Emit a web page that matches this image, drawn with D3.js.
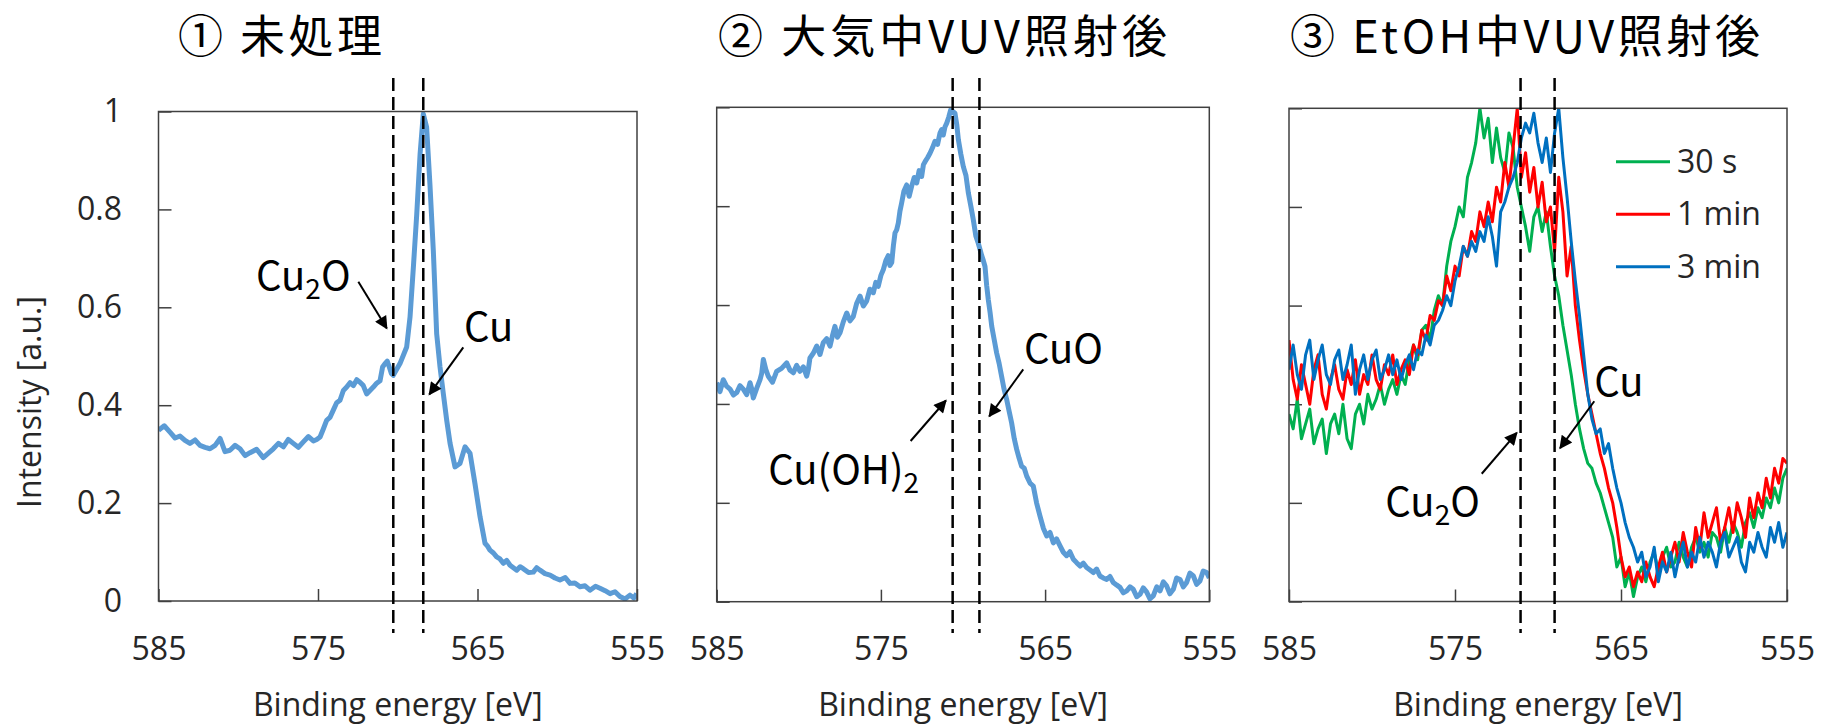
<!DOCTYPE html>
<meta charset="utf-8">
<style>
  body { margin: 0; background: #fff; }
  .num { font-family: "Open Sans", sans-serif; font-size: 32px; fill: #262626; }
  .jp { font-family: "Noto Sans CJK JP", sans-serif; fill: #000; }
</style>

<body>
  <svg id="chart" width="1821" height="724"></svg>
  <script src="https://d3js.org/d3.v7.min.js"></script>
  <script>
    var xTicks = [585, 575, 565, 555];
    var yTicks = [0, 0.2, 0.4, 0.6, 0.8, 1];
    var yTickLabels = ["0", "0.2", "0.4", "0.6", "0.8", "1"];
    var panelTitles = ["① 未処理", "② 大気中VUV照射後", "③ EtOH中VUV照射後"];
    var legendLabels = ["30 s", "1 min", "3 min"];

    // ① untreated
    var p1Energy = [585.0, 584.64, 584.28, 583.96, 583.65, 583.34, 583.03, 582.71, 582.4, 582.08,
      581.77, 581.45, 581.14, 580.83, 580.52, 580.2, 579.89, 579.57, 579.26, 578.85,
      578.43, 578.11, 577.8, 577.48, 577.17, 576.86, 576.55, 576.23, 575.92, 575.6,
      575.29, 575.08, 574.87, 574.66, 574.46, 574.25, 574.04, 573.83, 573.62, 573.41,
      573.2, 572.99, 572.78, 572.57, 572.37, 572.16, 571.95, 571.74, 571.53, 571.32,
      571.11, 570.95, 570.8, 570.66, 570.53, 570.4, 570.28, 569.86,
      569.44, 569.23, 569.02, 568.81, 568.6, 568.4, 568.19, 567.98, 567.77, 567.56,
      567.35, 567.14, 566.93, 566.72, 566.41, 566.1, 565.78, 565.47, 565.16, 564.84,
      564.53, 564.37, 564.22, 564.0, 563.8, 563.59, 563.38, 563.17, 562.96, 562.75,
      562.54, 562.33, 562.13, 561.8, 561.5, 561.29, 561.08, 560.77, 560.45, 560.14,
      559.83, 559.5, 559.2, 558.9, 558.57, 558.26, 557.95, 557.6, 557.32, 557.0,
      556.69, 556.38, 556.07, 555.75, 555.44, 555.2, 555.02];
    var p1Intensity = [0.349, 0.358, 0.345, 0.333, 0.337, 0.328, 0.322, 0.329, 0.318, 0.314,
      0.311, 0.318, 0.332, 0.305, 0.308, 0.318, 0.311, 0.297, 0.303, 0.31,
      0.293, 0.302, 0.311, 0.322, 0.315, 0.33, 0.322, 0.314, 0.325, 0.336,
      0.327, 0.33, 0.335, 0.352, 0.369, 0.375, 0.39, 0.405, 0.41, 0.43,
      0.437, 0.446, 0.44, 0.452, 0.447, 0.44, 0.423, 0.43, 0.437, 0.445,
      0.45, 0.478, 0.485, 0.49, 0.478, 0.465, 0.461, 0.485,
      0.519, 0.58, 0.682, 0.79, 0.913, 0.995, 0.968, 0.85, 0.716, 0.546,
      0.478, 0.423, 0.369, 0.322, 0.274, 0.281, 0.315, 0.302, 0.24, 0.172,
      0.118, 0.112, 0.104, 0.098, 0.09, 0.086, 0.077, 0.083, 0.073, 0.068,
      0.063, 0.07, 0.066, 0.058, 0.059, 0.068, 0.063, 0.056, 0.053, 0.047,
      0.043, 0.048, 0.036, 0.037, 0.029, 0.031, 0.022, 0.03, 0.026, 0.021,
      0.015, 0.019, 0.009, 0.004, 0.012, 0.006, 0.015];

    // ② VUV in air
    var p2Energy = [585.0, 584.8, 584.6, 584.4, 584.19, 583.98, 583.78, 583.58, 583.38, 583.17,
      582.97, 582.87, 582.77, 582.56, 582.36, 582.26, 582.16, 582.01, 581.86, 581.6,
      581.35, 581.05, 580.74, 580.53, 580.33, 580.13, 579.93, 579.72, 579.52, 579.42,
      579.32, 579.11, 578.91, 578.71, 578.51, 578.3, 578.1, 577.95, 577.8, 577.65,
      577.49, 577.29, 577.08, 576.88, 576.68, 576.48, 576.27, 576.07, 575.87, 575.67,
      575.46, 575.31, 575.16, 575.0, 574.85, 574.7, 574.55, 574.45, 574.34, 574.24,
      574.14, 574.04, 573.94, 573.84, 573.74, 573.6, 573.43, 573.28, 573.13, 572.97,
      572.82, 572.67, 572.52, 572.41, 572.31, 572.16, 572.01, 571.86, 571.71, 571.55,
      571.4, 571.3, 571.2, 571.1, 570.99, 570.87, 570.75, 570.49, 570.38, 570.28,
      570.13, 569.98, 569.82, 569.67, 569.52, 569.37, 569.22, 569.07, 568.96, 568.86,
      568.76, 568.66, 568.56, 568.46, 568.35, 568.25, 568.1, 567.95, 567.8, 567.65,
      567.5, 567.34, 567.19, 567.04, 566.88, 566.73, 566.58, 566.43, 566.27, 566.12,
      565.92, 565.72, 565.52, 565.31, 565.1, 564.9, 564.7, 564.5, 564.3, 564.09,
      563.89, 563.69, 563.49, 563.28, 563.08, 562.87, 562.67, 562.47, 562.26, 562.06,
      561.86, 561.66, 561.46, 561.25, 561.05, 560.85, 560.65, 560.44, 560.24, 560.03,
      559.83, 559.63, 559.42, 559.22, 559.02, 558.82, 558.62, 558.41, 558.2, 558.0,
      557.8, 557.6, 557.4, 557.19, 556.99, 556.78, 556.58, 556.38, 556.18, 555.97,
      555.77, 555.57, 555.37, 555.16, 555.0];
    var p2Intensity = [0.443, 0.425, 0.449, 0.436, 0.43, 0.418, 0.423, 0.437, 0.43, 0.419,
      0.443, 0.431, 0.412, 0.432, 0.449, 0.462, 0.49, 0.47, 0.456, 0.444,
      0.466, 0.472, 0.483, 0.468, 0.463, 0.478, 0.466, 0.475, 0.456, 0.47,
      0.493, 0.503, 0.517, 0.5, 0.524, 0.532, 0.517, 0.538, 0.557, 0.535,
      0.544, 0.566, 0.584, 0.568, 0.577, 0.603, 0.618, 0.598, 0.608, 0.632,
      0.625, 0.646, 0.638, 0.66, 0.672, 0.69, 0.7, 0.68, 0.686, 0.72,
      0.746, 0.752, 0.766, 0.79, 0.806, 0.83, 0.843, 0.82, 0.84, 0.858,
      0.847, 0.872, 0.86, 0.884, 0.89, 0.898, 0.907, 0.918, 0.931, 0.925,
      0.948, 0.955, 0.944, 0.96, 0.968, 0.98, 0.995, 0.988, 0.965, 0.934,
      0.905, 0.88, 0.862, 0.826, 0.8, 0.772, 0.74, 0.725, 0.712, 0.7,
      0.69, 0.678, 0.64, 0.611, 0.585, 0.557, 0.53, 0.503, 0.482, 0.456,
      0.43, 0.409, 0.385, 0.362, 0.33, 0.308, 0.29, 0.274, 0.27, 0.254,
      0.24, 0.234, 0.2, 0.173, 0.148, 0.133, 0.14, 0.119, 0.127, 0.113,
      0.1, 0.093, 0.101, 0.086, 0.079, 0.072, 0.078, 0.069, 0.064, 0.059,
      0.066, 0.052, 0.048, 0.045, 0.051, 0.039, 0.034, 0.029, 0.018, 0.022,
      0.03, 0.025, 0.01, 0.015, 0.028, 0.02, 0.006, 0.012, 0.03, 0.022,
      0.04, 0.032, 0.016, 0.025, 0.048, 0.045, 0.03, 0.039, 0.058, 0.052,
      0.035, 0.042, 0.062, 0.059, 0.048];

    // ③ VUV in EtOH, read every 0.25 eV from 585 down to 555
    var p3Energy = d3.range(0, 121).map(function(i) { return 585 - i * 0.25; });
    var p3Green = [0.38, 0.35, 0.41, 0.33, 0.36, 0.39, 0.32, 0.35, 0.37, 0.30,
      0.36, 0.38, 0.34, 0.40, 0.33, 0.31, 0.38, 0.40, 0.36, 0.42,
      0.39, 0.41, 0.44, 0.40, 0.43, 0.45, 0.42, 0.46, 0.44, 0.49,
      0.52, 0.49, 0.55, 0.56, 0.53, 0.59, 0.62, 0.60, 0.68, 0.73,
      0.76, 0.80, 0.78, 0.86, 0.89, 0.93, 1.00, 0.94, 0.98, 0.89,
      0.96, 0.90, 0.87, 0.95, 0.92, 0.84, 0.80, 0.76, 0.71, 0.78,
      0.80, 0.75, 0.79, 0.72, 0.66, 0.62, 0.56, 0.51, 0.46, 0.40,
      0.35, 0.31, 0.28, 0.27, 0.24, 0.22, 0.19, 0.16, 0.13, 0.07,
      0.09, 0.03, 0.06, 0.01, 0.05, 0.07, 0.04, 0.08, 0.10, 0.06,
      0.09, 0.11, 0.07, 0.08, 0.12, 0.09, 0.07, 0.11, 0.13, 0.10,
      0.12, 0.09, 0.14, 0.13, 0.10, 0.15, 0.12, 0.16, 0.14, 0.11,
      0.16, 0.18, 0.15, 0.19, 0.17, 0.21, 0.19, 0.23, 0.20, 0.25,
      0.27];
    var p3Red = [0.53, 0.45, 0.41, 0.48, 0.44, 0.40, 0.47, 0.50, 0.42, 0.39,
      0.45, 0.48, 0.43, 0.41, 0.47, 0.44, 0.49, 0.42, 0.46, 0.44,
      0.50, 0.45, 0.43, 0.48, 0.46, 0.50, 0.44, 0.47, 0.49, 0.46,
      0.52, 0.50, 0.55, 0.53, 0.58, 0.57, 0.61, 0.60, 0.66, 0.63,
      0.68, 0.66, 0.72, 0.70, 0.75, 0.73, 0.79, 0.76, 0.81, 0.77,
      0.84, 0.81, 0.89, 0.84, 0.92, 1.00, 0.86, 0.91, 0.83, 0.88,
      0.80, 0.85, 0.77, 0.80, 0.71, 0.86, 0.79, 0.66, 0.72, 0.60,
      0.53, 0.47, 0.42, 0.38, 0.34, 0.30, 0.27, 0.23, 0.20, 0.15,
      0.09, 0.05, 0.07, 0.03, 0.06, 0.04, 0.08, 0.05, 0.03, 0.07,
      0.10, 0.06, 0.09, 0.12, 0.08, 0.14, 0.10, 0.07, 0.15, 0.11,
      0.18, 0.13, 0.16, 0.19, 0.12, 0.15, 0.19, 0.14, 0.20, 0.17,
      0.13, 0.21, 0.17, 0.22, 0.19, 0.25, 0.21, 0.27, 0.24, 0.29,
      0.28];
    var p3Blue = [0.47, 0.52, 0.46, 0.43, 0.50, 0.53, 0.45, 0.49, 0.52, 0.46,
      0.44, 0.49, 0.51, 0.45, 0.48, 0.52, 0.42, 0.47, 0.50, 0.45,
      0.49, 0.51, 0.45, 0.47, 0.50, 0.46, 0.49, 0.45, 0.48, 0.50,
      0.47, 0.51, 0.50, 0.54, 0.52, 0.56, 0.57, 0.59, 0.62, 0.60,
      0.65, 0.68, 0.72, 0.70, 0.73, 0.71, 0.75, 0.73, 0.78, 0.74,
      0.68, 0.79, 0.81, 0.84, 0.86, 0.89, 0.94, 0.97, 0.95, 0.99,
      0.93, 0.89, 0.94, 0.87, 0.95, 1.00, 0.90, 0.82, 0.73, 0.65,
      0.58, 0.50, 0.42, 0.37, 0.34, 0.35, 0.30, 0.32, 0.27, 0.23,
      0.20, 0.16, 0.13, 0.11, 0.08, 0.10, 0.05, 0.07, 0.11, 0.04,
      0.08, 0.06, 0.10, 0.05, 0.09, 0.12, 0.07, 0.10, 0.08, 0.13,
      0.09, 0.12, 0.10, 0.07, 0.12, 0.14, 0.09, 0.11, 0.13, 0.08,
      0.06, 0.12, 0.10, 0.14, 0.11, 0.09, 0.15, 0.12, 0.16, 0.11,
      0.14];

    // reference peak positions (eV), dashed
    var refLines = [[570.28, 568.4], [570.63, 569.0], [571.05, 569.0]];

    // labels + arrows, in data units: label at (lx, ly), arrow from (x1, y1) to (x2, y2)
    var notes = [
      [{ parts: [["Cu"], ["2", 1], ["O"]], lx: 578.89, ly: 0.635, x1: 572.47, y1: 0.652, x2: 570.69, y2: 0.557 },
       { parts: [["Cu"]], lx: 565.85, ly: 0.531, x1: 565.89, y1: 0.518, x2: 568.02, y2: 0.422 }],
      [{ parts: [["Cu(OH)"], ["2", 1]], lx: 581.86, ly: 0.239, x1: 573.19, y1: 0.325, x2: 571.04, y2: 0.407 },
       { parts: [["CuO"]], lx: 566.29, ly: 0.482, x1: 566.33, y1: 0.47, x2: 568.4, y2: 0.375 }],
      [{ parts: [["Cu"], ["2", 1], ["O"]], lx: 579.2, ly: 0.174, x1: 573.39, y1: 0.259, x2: 571.28, y2: 0.342 },
       { parts: [["Cu"]], lx: 566.61, ly: 0.417, x1: 566.61, y1: 0.406, x2: 568.67, y2: 0.311 }]
    ];

    var panels = [
      { left: 158.5, right: 637, top: 111.5, bottom: 601, titleX: 178, titleLen: 204,
        series: [{ x: p1Energy, y: p1Intensity, color: "#5b9bd5", w: 5 }] },
      { left: 716.7, right: 1209.3, top: 107.3, bottom: 601.7, titleX: 718, titleLen: 449,
        series: [{ x: p2Energy, y: p2Intensity, color: "#5b9bd5", w: 5 }] },
      { left: 1289, right: 1787, top: 108.3, bottom: 601.5, titleX: 1290, titleLen: 470,
        series: [{ x: p3Energy, y: p3Green, color: "#00b050", w: 3 },
                 { x: p3Energy, y: p3Red, color: "#ff0000", w: 3 },
                 { x: p3Energy, y: p3Blue, color: "#0070c0", w: 3 }] }
    ];

    var svg = d3.select("#chart");
    svg.append("rect").attr("width", 1821).attr("height", 724).attr("fill", "#fff");

    svg.append("defs").append("marker")
      .attr("id", "arrow")
      .attr("viewBox", "0 0 10 10")
      .attr("refX", 9).attr("refY", 5)
      .attr("markerUnits", "userSpaceOnUse")
      .attr("markerWidth", 16).attr("markerHeight", 13)
      .attr("orient", "auto")
      .append("path").attr("d", "M0,0L10,5L0,10z").attr("fill", "#000");

    panels.forEach(function(p, pi) {
      var x = d3.scaleLinear().domain([585, 555]).range([p.left, p.right]);
      var y = d3.scaleLinear().domain([0, 1]).range([p.bottom, p.top]);
      var g = svg.append("g");

      svg.select("defs").append("clipPath").attr("id", "clip" + pi)
        .append("rect")
        .attr("x", p.left).attr("y", p.top)
        .attr("width", p.right - p.left).attr("height", p.bottom - p.top);

      var xAxis = d3.axisBottom(x).tickValues(xTicks).tickSize(-12).tickSizeOuter(0)
        .tickPadding(36).tickFormat(d3.format("d"));
      var yAxis = d3.axisLeft(y).tickValues(yTicks).tickSize(-13).tickSizeOuter(0)
        .tickPadding(36.5)
        .tickFormat(function(d, i) { return pi == 0 ? yTickLabels[i] : ""; });

      [g.append("g").attr("transform", "translate(0," + p.bottom + ")").call(xAxis),
       g.append("g").attr("transform", "translate(" + p.left + ",0)").call(yAxis)]
        .forEach(function(a) {
          a.attr("font-size", null).attr("font-family", null).attr("color", "#404040");
          a.select(".domain").remove();
          a.selectAll(".tick line").attr("stroke-width", 1.5);
          a.selectAll(".tick text").attr("class", "num").attr("fill", null);
        });

      // spectra
      var line = d3.line()
        .x(function(d) { return x(d[0]); })
        .y(function(d) { return y(d[1]); });
      p.series.forEach(function(s) {
        g.append("path")
          .datum(d3.zip(s.x, s.y))
          .attr("clip-path", "url(#clip" + pi + ")")
          .attr("fill", "none")
          .attr("stroke", s.color)
          .attr("stroke-width", s.w)
          .attr("stroke-linejoin", "round")
          .attr("d", line);
      });

      // frame
      g.append("rect")
        .attr("x", p.left).attr("y", p.top)
        .attr("width", p.right - p.left).attr("height", p.bottom - p.top)
        .attr("fill", "none").attr("stroke", "#404040").attr("stroke-width", 1.5);

      // dashed reference lines, poking out above and below the frame
      g.selectAll(".ref")
        .data(refLines[pi])
        .enter().append("line")
        .attr("x1", function(d) { return x(d); })
        .attr("x2", function(d) { return x(d); })
        .attr("y1", 78).attr("y2", 633)
        .attr("stroke", "#000").attr("stroke-width", 2.5)
        .attr("stroke-dasharray", "13,6");

      // annotations
      notes[pi].forEach(function(n) {
        g.append("line")
          .attr("x1", x(n.x1)).attr("y1", y(n.y1))
          .attr("x2", x(n.x2)).attr("y2", y(n.y2))
          .attr("stroke", "#000").attr("stroke-width", 2)
          .attr("marker-end", "url(#arrow)");
        var t = g.append("text").attr("class", "jp")
          .attr("x", x(n.lx)).attr("y", y(n.ly))
          .attr("font-size", 40);
        n.parts.forEach(function(part, k) {
          var prevSub = k > 0 && n.parts[k - 1][1];
          var ts = t.append("tspan").text(part[0]);
          if (part[1]) ts.attr("font-size", 28).attr("dy", 9);
          else if (prevSub) ts.attr("dy", -9);
        });
      });

      // title
      svg.append("text").attr("class", "jp")
        .attr("x", p.titleX).attr("y", 53)
        .attr("font-size", 45)
        .attr("textLength", p.titleLen)
        .attr("lengthAdjust", "spacing")
        .text(panelTitles[pi]);

      // x axis title
      svg.append("text").attr("class", "num")
        .attr("x", (p.left + p.right) / 2).attr("y", 716)
        .attr("text-anchor", "middle")
        .text("Binding energy [eV]");
    });

    // y axis title, first panel only
    svg.append("text").attr("class", "num")
      .attr("transform", "translate(41,402) rotate(-90)")
      .attr("text-anchor", "middle")
      .text("Intensity [a.u.]");

    // legend in panel 3
    var p3 = panels[2];
    var leg = svg.append("g");
    p3.series.forEach(function(s, i) {
      var ly = 161.7 + i * 52.5;
      leg.append("line")
        .attr("x1", p3.right - 171).attr("x2", p3.right - 117)
        .attr("y1", ly).attr("y2", ly)
        .attr("stroke", s.color).attr("stroke-width", 3);
      leg.append("text").attr("class", "num")
        .attr("x", p3.right - 110).attr("y", ly).attr("dy", "0.35em")
        .text(legendLabels[i]);
    });
  </script>
</body>
